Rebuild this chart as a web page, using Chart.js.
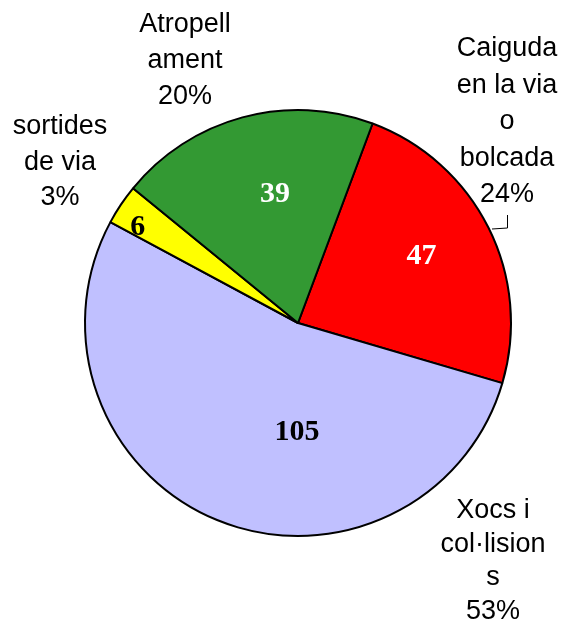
<!DOCTYPE html>
<html>
<head>
<meta charset="utf-8">
<script src="https://cdn.jsdelivr.net/npm/chart.js@4"></script>
<style>
html,body{margin:0;padding:0;background:#fff;}
canvas{display:block;}
</style>
</head>
<body>
<canvas id="c" width="562" height="630"></canvas>
<script>
// ---- data ----
const categories = ['Caiguda en la via o bolcada', 'Xocs i col·lisions', 'sortides de via', 'Atropellament'];
const values = [47, 105, 6, 39];
const labelLines = [
  ['Caiguda', 'en la via', 'o', 'bolcada'],
  ['Xocs i', 'col·lision', 's'],
  ['sortides', 'de via'],
  ['Atropell', 'ament']
];
const colors = ['#FF0000', '#C0C0FF', '#FFFF00', '#339933'];
const valueTextColors = ['#FFFFFF', '#000000', '#000000', '#FFFFFF'];

// ---- layout (relative to pie centre) ----
const outerLayout = [
  {dx: 209, dy: -267, step: 36.5},
  {dx: 195, dy: 195, step: 33.7},
  {dx: -238, dy: -189, step: 35.5},
  {dx: -113, dy: -291, step: 36}
];
const innerLayout = [
  {angle: 61.4, frac: 0.66},
  {angle: 180.5, frac: 0.507},
  {angle: 301.2, frac: 0.88},
  {angle: 350, frac: 0.62}
];

const total = values.reduce((a, b) => a + b, 0);

const labelPlugin = {
  id: 'labels',
  afterDatasetsDraw(chart) {
    const ctx = chart.ctx;
    const meta = chart.getDatasetMeta(0);
    const arc0 = meta.data[0];
    const cx = arc0.x, cy = arc0.y, r = arc0.outerRadius;
    const k = r / 213;
    ctx.save();
    // values inside
    ctx.font = 'bold 30px "Liberation Serif", "Times New Roman", serif';
    ctx.textAlign = 'center';
    ctx.textBaseline = 'middle';
    values.forEach((v, i) => {
      const a = innerLayout[i].angle * Math.PI / 180;
      const rr = innerLayout[i].frac * r;
      ctx.fillStyle = valueTextColors[i];
      ctx.fillText(String(v), cx + rr * Math.sin(a), cy - rr * Math.cos(a) + 1);
    });
    // outside labels
    ctx.font = '27px "Liberation Sans", Arial, sans-serif';
    ctx.fillStyle = '#000';
    ctx.textBaseline = 'alphabetic';
    values.forEach((v, i) => {
      const L = outerLayout[i];
      const lines = labelLines[i].concat([Math.round(v / total * 100) + '%']);
      lines.forEach((t, j) => {
        ctx.fillText(t, cx + L.dx * k, cy + (L.dy + j * L.step) * k);
      });
    });
    // leader line for first label
    ctx.strokeStyle = '#000';
    ctx.lineWidth = 1;
    ctx.beginPath();
    ctx.moveTo(cx + 209.5 * k, cy - 108 * k);
    ctx.lineTo(cx + 209.5 * k, cy - 95 * k);
    ctx.lineTo(cx + 194 * k, cy - 94 * k);
    ctx.stroke();
    ctx.restore();
  }
};

new Chart(document.getElementById('c'), {
  type: 'pie',
  data: {
    labels: categories,
    datasets: [{
      data: values,
      backgroundColor: colors,
      borderColor: '#000000',
      borderWidth: 2
    }]
  },
  options: {
    responsive: false,
    animation: false,
    rotation: 20.5,
    layout: {padding: {left: 84, top: 109, right: 50, bottom: 93}},
    plugins: {legend: {display: false}, tooltip: {enabled: false}}
  },
  plugins: [labelPlugin]
});
</script>
</body>
</html>
